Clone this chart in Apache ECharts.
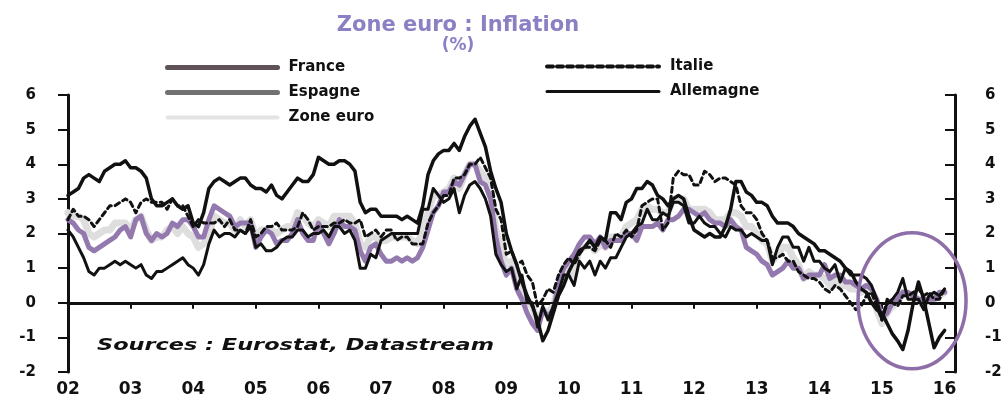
<!DOCTYPE html>
<html>
<head>
<meta charset="utf-8">
<script src="https://cdn.jsdelivr.net/npm/echarts@6/dist/echarts.min.js"></script>
<style>
  html, body { margin: 0; padding: 0; background: #fff; }
  #chart { width: 1005px; height: 399px; }
</style>
</head>
<body>
<div id="chart"></div>
<script>
// Monthly HICP inflation (% y/y), Jan 2002 - Jan 2016
const years = [2002, 2003, 2004, 2005, 2006, 2007, 2008, 2009, 2010, 2011, 2012, 2013, 2014, 2015, 2016];
const yearLabels = ['02', '03', '04', '05', '06', '07', '08', '09', '10', '11', '12', '13', '14', '15', '16'];

const france = [
  2.4, 2.3, 2.1, 2.0, 1.6, 1.5, 1.6, 1.7, 1.8, 1.9, 2.1, 2.2,
  1.9, 2.4, 2.5, 2.0, 1.8, 2.0, 1.9, 2.0, 2.3, 2.2, 2.4, 2.4,
  2.2, 1.9, 1.9, 2.4, 2.8, 2.7, 2.6, 2.5, 2.2, 2.3, 2.3, 2.3,
  1.6, 1.9, 2.1, 2.0, 1.7, 1.8, 1.8, 2.0, 2.4, 2.0, 1.8, 1.8,
  2.3, 2.0, 1.7, 2.0, 2.4, 2.2, 2.2, 2.1, 1.5, 1.2, 1.6, 1.7,
  1.4, 1.2, 1.2, 1.3, 1.2, 1.3, 1.2, 1.3, 1.6, 2.1, 2.6, 2.8,
  3.2, 3.2, 3.5, 3.4, 3.7, 4.0, 4.0, 3.5, 3.4, 3.0, 1.9, 1.2,
  0.8, 1.0, 0.4, 0.1, -0.3, -0.6, -0.8, -0.2, -0.4, -0.2, 0.5, 1.0,
  1.2, 1.4, 1.7, 1.9, 1.9, 1.7, 1.9, 1.6, 1.8, 1.8, 1.8, 2.0,
  2.0, 1.8, 2.2, 2.2, 2.2, 2.3, 2.1, 2.4, 2.4, 2.5, 2.7, 2.7,
  2.6, 2.5, 2.6, 2.4, 2.3, 2.3, 2.2, 2.4, 2.2, 2.1, 1.6, 1.5,
  1.4, 1.2, 1.1, 0.8, 0.9, 1.0, 1.2, 1.0, 1.0, 0.7, 0.8, 0.8,
  0.8, 1.1, 0.7, 0.8, 0.8, 0.6, 0.6, 0.5, 0.4, 0.5, 0.4, 0.1,
  -0.4, -0.3, 0.0, 0.1, 0.3, 0.3, 0.2, 0.1, 0.1, 0.1, 0.1, 0.3,
  0.3
];

const espagne = [
  3.1, 3.2, 3.3, 3.6, 3.7, 3.6, 3.5, 3.8, 3.9, 4.0, 4.0, 4.1,
  3.9, 3.9, 3.8, 3.6, 3.0, 2.8, 2.8, 2.9, 3.0, 2.8, 2.7, 2.8,
  2.3, 2.2, 2.6, 3.3, 3.5, 3.6, 3.5, 3.4, 3.5, 3.6, 3.6, 3.4,
  3.3, 3.3, 3.2, 3.4, 3.1, 3.0, 3.2, 3.4, 3.6, 3.5, 3.5, 3.7,
  4.2, 4.1, 4.0, 4.0, 4.1, 4.1, 4.0, 3.8, 2.9, 2.6, 2.7, 2.7,
  2.5, 2.5, 2.5, 2.5, 2.4, 2.5, 2.4, 2.3, 2.8, 3.7, 4.1, 4.3,
  4.4, 4.4, 4.6, 4.4, 4.8, 5.1, 5.3, 4.9, 4.5, 3.8, 3.3, 2.9,
  2.0, 1.5, 1.1, 0.6, 0.2, -0.1, -0.5, -1.1, -0.8, -0.3, 0.2, 0.5,
  0.9, 1.2, 1.5, 1.6, 1.8, 1.6, 1.9, 1.8, 2.6, 2.6, 2.4, 2.9,
  3.0, 3.3, 3.3, 3.5, 3.4, 3.1, 3.0, 2.8, 3.0, 3.1, 3.0, 2.5,
  2.1, 2.0, 1.9, 2.0, 1.9, 1.9, 2.2, 2.7, 3.5, 3.5, 3.2, 3.1,
  2.9, 2.9, 2.8, 2.5, 2.3, 2.3, 2.3, 2.2, 2.0, 1.9, 1.8, 1.7,
  1.5, 1.5, 1.4, 1.3, 1.2, 1.0, 0.9, 0.6, 0.4, 0.3, 0.0, -0.2,
  -0.3, -0.6, -0.9, -1.1, -1.35, -0.8, 0.0, 0.6, 0.1, -0.6, -1.3, -1.0,
  -0.8
];

const zoneEuro = [
  2.6, 2.5, 2.5, 2.4, 2.0, 1.9, 2.0, 2.1, 2.1, 2.3, 2.3, 2.3,
  2.1, 2.4, 2.5, 2.1, 1.8, 1.9, 1.9, 2.1, 2.2, 2.0, 2.2, 2.0,
  1.9, 1.6, 1.7, 2.0, 2.5, 2.4, 2.3, 2.3, 2.1, 2.4, 2.2, 2.4,
  1.9, 2.1, 2.1, 2.1, 2.0, 2.1, 2.2, 2.2, 2.6, 2.5, 2.3, 2.2,
  2.4, 2.3, 2.2, 2.5, 2.5, 2.5, 2.5, 2.3, 1.7, 1.6, 1.9, 1.9,
  1.8, 1.8, 1.9, 1.9, 1.9, 1.9, 1.8, 1.7, 2.1, 2.6, 3.1, 3.1,
  3.2, 3.3, 3.6, 3.3, 3.7, 4.0, 4.0, 3.8, 3.6, 3.2, 2.1, 1.6,
  1.1, 1.2, 0.6, 0.6, 0.0, -0.1, -0.6, -0.2, -0.3, -0.1, 0.5, 0.9,
  1.0, 0.8, 1.6, 1.6, 1.7, 1.5, 1.7, 1.6, 1.9, 1.9, 1.9, 2.2,
  2.3, 2.4, 2.7, 2.8, 2.7, 2.7, 2.6, 2.6, 3.0, 3.0, 3.0, 2.7,
  2.7, 2.7, 2.7, 2.6, 2.4, 2.4, 2.4, 2.6, 2.6, 2.5, 2.2, 2.2,
  2.0, 1.8, 1.7, 1.2, 1.4, 1.6, 1.6, 1.3, 1.1, 0.7, 0.9, 0.8,
  0.8, 0.7, 0.5, 0.7, 0.5, 0.5, 0.4, 0.4, 0.3, 0.4, 0.3, -0.2,
  -0.6, -0.3, -0.1, 0.0, 0.3, 0.2, 0.2, 0.1, -0.1, 0.1, 0.1, 0.2,
  0.3
];

const italie = [
  2.4, 2.7, 2.5, 2.5, 2.4, 2.2, 2.4, 2.6, 2.8, 2.8, 2.9, 3.0,
  2.9, 2.6, 2.9, 3.0, 2.9, 2.9, 2.9, 2.7, 3.0, 2.8, 2.8, 2.5,
  2.2, 2.4, 2.3, 2.3, 2.3, 2.4, 2.2, 2.4, 2.1, 2.1, 2.0, 2.4,
  1.9, 2.0, 2.2, 2.2, 2.3, 2.1, 2.1, 2.1, 2.2, 2.6, 2.4, 2.1,
  2.2, 2.2, 2.2, 2.3, 2.3, 2.4, 2.3, 2.3, 2.4, 1.9, 2.0, 2.1,
  1.9, 2.1, 2.1, 1.8, 1.9, 1.9, 1.7, 1.7, 1.7, 2.3, 2.6, 2.8,
  3.1, 3.1, 3.6, 3.6, 3.7, 4.0, 4.0, 4.2, 3.9, 3.6, 2.7, 2.4,
  1.4, 1.5, 1.1, 1.2, 0.8, 0.6, -0.1, 0.1, 0.4, 0.3, 0.8, 1.1,
  1.3, 1.1, 1.4, 1.6, 1.6, 1.5, 1.8, 1.8, 1.6, 2.0, 1.9, 2.1,
  1.9, 2.1, 2.8, 2.9, 3.0, 3.0, 2.1, 2.3, 3.6, 3.8, 3.7, 3.7,
  3.4, 3.4, 3.8, 3.7, 3.5, 3.6, 3.6, 3.5, 3.4, 2.8, 2.6, 2.6,
  2.4, 2.0, 1.8, 1.3, 1.3, 1.4, 1.2, 1.2, 0.9, 0.8, 0.7, 0.7,
  0.6, 0.4, 0.3, 0.5, 0.4, 0.2, 0.0, -0.2, -0.1, 0.2, 0.3, -0.1,
  -0.5, 0.1, 0.0, -0.1, 0.2, 0.2, 0.3, 0.4, 0.2, 0.3, 0.1, 0.1,
  0.4
];

const allemagne = [
  2.1, 1.9, 1.6, 1.3, 0.9, 0.8, 1.0, 1.0, 1.1, 1.2, 1.1, 1.2,
  1.1, 1.0, 1.1, 0.8, 0.7, 0.9, 0.9, 1.0, 1.1, 1.2, 1.3, 1.1,
  1.0, 0.8, 1.1, 1.7, 2.1, 1.9, 2.0, 2.0, 1.9, 2.1, 2.0, 2.2,
  1.6, 1.7, 1.5, 1.5, 1.6, 1.8, 1.9, 1.9, 2.1, 2.1, 1.9, 2.0,
  2.0, 2.1, 1.9, 2.2, 2.2, 2.0, 2.1, 1.8, 1.0, 1.0, 1.4, 1.3,
  1.8, 1.9, 2.0, 2.0, 2.0, 2.0, 2.0, 2.0, 2.7, 2.7, 3.3, 3.1,
  2.9, 3.0, 3.3, 2.6, 3.1, 3.4, 3.5, 3.3, 3.0, 2.5, 1.4, 1.1,
  0.9, 1.0, 0.4, 0.8, 0.0, 0.0, -0.7, -0.1, -0.5, -0.1, 0.3, 0.8,
  0.8, 0.5, 1.2, 1.0, 1.2, 0.8, 1.2, 1.0, 1.3, 1.3, 1.6, 1.9,
  2.0, 2.2, 2.3, 2.7, 2.4, 2.4, 2.6, 2.5, 2.9, 2.9, 2.8, 2.3,
  2.3, 2.5, 2.3, 2.2, 2.2, 2.0, 1.9, 2.2, 2.1, 2.1, 1.9, 2.0,
  1.9, 1.8, 1.8, 1.1, 1.6, 1.9, 1.9, 1.6, 1.6, 1.2, 1.6, 1.2,
  1.2, 1.0, 0.9, 1.1, 0.6, 1.0, 0.8, 0.8, 0.8, 0.7, 0.5, 0.1,
  -0.5, 0.0, 0.1, 0.3, 0.7, 0.1, 0.1, 0.1, -0.2, 0.2, 0.3, 0.2,
  0.4
];

// Month categories, Jan 2002 through Mar 2016 (axis runs a little past the data)
const months = [];
years.forEach(function (y) {
  for (let m = 1; m <= 12; m++) {
    if (y === 2016 && m > 3) break;
    months.push(y + '-' + (m < 10 ? '0' + m : m));
  }
});

const ink = '#111111';
const axisFont = { fontFamily: 'DejaVu Sans', fontWeight: 'bold', fontSize: 15, color: ink };
const yearTick = function (index) { return index % 12 === 0; };

const chart = echarts.init(document.getElementById('chart'), null, { renderer: 'canvas' });

function lineSeries(name, data, color, width, type, z) {
  return {
    name: name,
    type: 'line',
    data: data,
    symbol: 'none',
    smooth: false,
    z: z,
    lineStyle: { color: color, width: width, type: type || 'solid', cap: 'round', join: 'round' },
    itemStyle: { color: color }
  };
}

const series = [
  lineSeries('Zone euro', zoneEuro, '#dedede', 7, 'solid', 2),
  lineSeries('France', france, '#9479ae', 5, 'solid', 3),
  lineSeries('Italie', italie, ink, 3, [5, 4], 4),
  lineSeries('Allemagne', allemagne, ink, 3, 'solid', 5),
  lineSeries('Espagne', espagne, ink, 3.5, 'solid', 6)
];
// zero reference line
series[3].markLine = {
  silent: true,
  symbol: 'none',
  label: { show: false },
  lineStyle: { color: ink, width: 2, type: 'solid' },
  data: [{ yAxis: 0 }]
};

const legendText = { fontFamily: 'DejaVu Sans', fontWeight: 'bold', fontSize: 15, color: ink, padding: [0, 0, 0, 6] };
// legend keys are plain line samples (no point marker)
const noMarker = { opacity: 0, borderWidth: 0 };

const option = {
  animation: false,
  backgroundColor: '#ffffff',
  title: {
    text: 'Zone euro : Inflation',
    subtext: '(%)',
    left: 453,
    top: 10,
    textAlign: 'center',
    itemGap: 1,
    textStyle: { fontFamily: 'DejaVu Sans', fontWeight: 'bold', fontSize: 21, color: '#8c80c4' },
    subtextStyle: { fontFamily: 'DejaVu Sans', fontWeight: 'bold', fontSize: 17, color: '#8c80c4' }
  },
  legend: [
    {
      left: 160, top: 55, orient: 'vertical',
      itemWidth: 110, itemHeight: 15, itemGap: 10,
      textStyle: legendText,
      itemStyle: noMarker,
      data: [
        { name: 'France', lineStyle: { color: '#5f5359', width: 5 }, itemStyle: noMarker },
        { name: 'Espagne', lineStyle: { color: '#727272', width: 5 }, itemStyle: noMarker },
        { name: 'Zone euro', lineStyle: { color: '#e4e4e4', width: 4 }, itemStyle: noMarker }
      ]
    },
    {
      left: 540, top: 54, orient: 'vertical',
      itemWidth: 112, itemHeight: 15, itemGap: 10,
      textStyle: legendText,
      itemStyle: noMarker,
      data: [
        { name: 'Italie', lineStyle: { color: ink, width: 4, type: [6, 4] }, itemStyle: noMarker },
        { name: 'Allemagne', lineStyle: { color: ink, width: 3 }, itemStyle: noMarker }
      ]
    }
  ],
  grid: { left: 68, right: 50, top: 95, bottom: 27, containLabel: false },
  xAxis: {
    type: 'category',
    data: months,
    boundaryGap: false,
    axisLine: { lineStyle: { color: ink, width: 3 } },
    axisTick: { interval: yearTick, length: 6, lineStyle: { color: ink, width: 2 } },
    axisLabel: Object.assign({}, axisFont, {
      interval: yearTick,
      margin: 9,
      fontSize: 17,
      formatter: function (value, index) { return yearLabels[Math.floor(index / 12)]; }
    }),
    splitLine: { show: false }
  },
  yAxis: [
    {
      type: 'value', min: -2, max: 6, interval: 1, position: 'left',
      axisLine: { show: true, lineStyle: { color: ink, width: 3 } },
      axisTick: { show: true, inside: false, length: 10, lineStyle: { color: ink, width: 2 } },
      axisLabel: Object.assign({ margin: 32 }, axisFont),
      splitLine: { show: false }
    },
    {
      type: 'value', min: -2, max: 6, interval: 1, position: 'right',
      axisLine: { show: true, lineStyle: { color: ink, width: 3 } },
      axisTick: { show: true, inside: true, length: 10, lineStyle: { color: ink, width: 2 } },
      axisLabel: Object.assign({ margin: 30 }, axisFont),
      splitLine: { show: false }
    }
  ],
  series: series
};

chart.setOption(option);

// Source note and the ring around the 2015 deflation episode
const c = chart.convertToPixel({ xAxisIndex: 0, yAxisIndex: 0 }, ['2015-06', 0]);
chart.setOption({
  graphic: [
    {
      type: 'text', x: 97, y: 338, z: 20, scaleX: 1.4, originX: 0, originY: 0,
      style: { text: 'Sources : Eurostat, Datastream', font: 'italic bold 16px "DejaVu Sans"', fill: ink }
    },
    {
      type: 'ellipse', z: 30, silent: true,
      shape: { cx: c[0] + 4, cy: c[1] - 2, rx: 54, ry: 68 },
      style: { fill: 'none', stroke: '#8e6ea8', lineWidth: 3.5 }
    }
  ]
});
</script>
</body>
</html>
